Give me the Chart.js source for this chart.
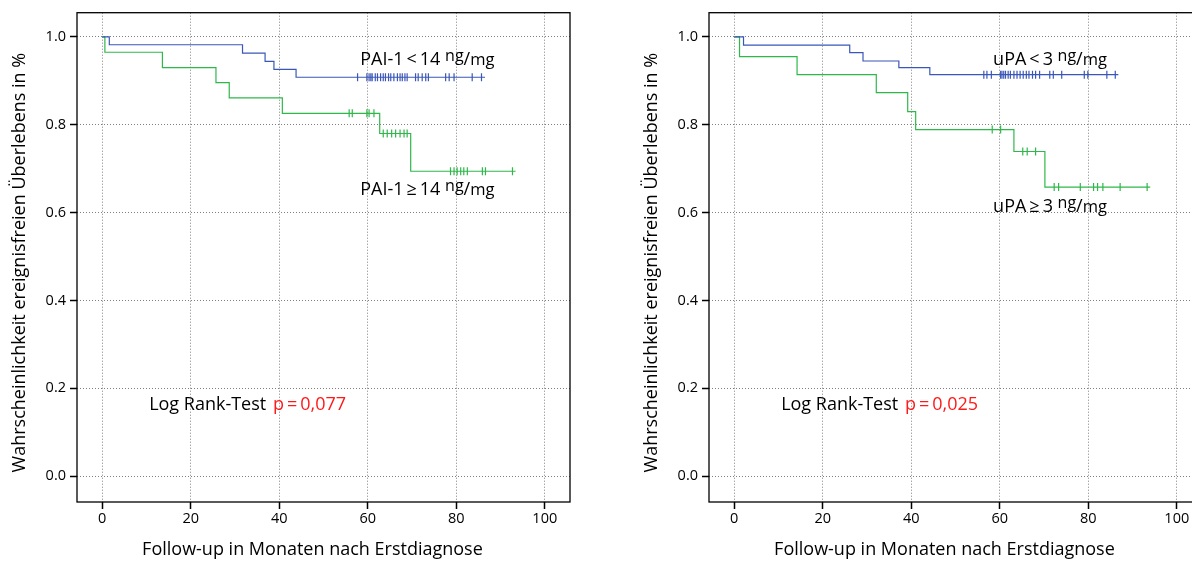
<!DOCTYPE html>
<html>
<head>
<meta charset="utf-8">
<script src="https://cdn.jsdelivr.net/npm/chart.js@4"></script>
<style>
    html, body { margin: 0; padding: 0; background: #fff; overflow: hidden; width: 1192px; height: 562px; }
    .panel { position: absolute; top: 0; width: 600px; height: 562px; }
</style>
</head>
<body>
<div class="panel" style="left:0"><canvas id="chartPai" width="600" height="562"></canvas></div>
<div class="panel" style="left:630px"><canvas id="chartUpa" width="600" height="562"></canvas></div>
<script>
// Axis ticks
const xTicks = [0, 20, 40, 60, 80, 100];
const yTicks = [0.0, 0.2, 0.4, 0.6, 0.8, 1.0];

// Left panel: PAI-1 < 14 ng/mg (event times, survival after each step)
const paiLowTimes = [0, 1.6, 31.7, 36.8, 38.8, 43.8, 86.5];
const paiLowSurv = [1.0, 0.982, 0.963, 0.944, 0.926, 0.908, 0.908];
const paiLowCensored = [57.7, 59.8, 60.3, 60.7, 61.0, 61.7, 62.2, 62.9, 63.5, 64.0, 64.7, 65.2, 65.9,
    66.7, 67.3, 67.8, 68.4, 68.9, 70.8, 71.4, 72.3, 73.1, 73.7, 77.6, 78.4, 79.5, 83.6, 85.7];

// Left panel: PAI-1 >= 14 ng/mg
const paiHighTimes = [0, 0.6, 13.6, 25.7, 28.7, 40.7, 62.7, 69.7, 93.4];
const paiHighSurv = [1.0, 0.965, 0.930, 0.896, 0.861, 0.826, 0.780, 0.694, 0.694];
const paiHighCensored = [55.8, 56.5, 59.8, 60.3, 61.4, 63.5, 64.4, 65.4, 66.3, 67.3, 68.2, 68.9,
    78.7, 79.5, 80.2, 81.0, 81.7, 82.5, 85.9, 86.6, 92.7];

// Right panel: uPA < 3 ng/mg
const upaLowTimes = [0, 2.1, 26.1, 29.1, 37.2, 44.2, 86.8];
const upaLowSurv = [1.0, 0.981, 0.964, 0.945, 0.930, 0.914, 0.914];
const upaLowCensored = [56.4, 57.1, 58.1, 60.2, 60.5, 60.9, 61.3, 61.9, 62.4, 63.2, 63.9, 64.6, 65.3,
    66.0, 66.6, 67.4, 68.1, 69.0, 71.3, 72.1, 74.0, 79.1, 79.9, 84.2, 86.1];

// Right panel: uPA >= 3 ng/mg
const upaHighTimes = [0, 1.2, 14.2, 32.1, 39.2, 41.0, 63.2, 70.2, 94.0];
const upaHighSurv = [1.0, 0.955, 0.914, 0.873, 0.830, 0.789, 0.739, 0.658, 0.658];
const upaHighCensored = [58.3, 60.2, 65.2, 66.2, 68.1, 72.3, 73.3, 78.2, 81.2, 82.1, 83.3, 87.2, 93.3];

const blue = '#3a57b8';
const green = '#2fb84a';
const FONT = '"Open Sans", "Liberation Sans", sans-serif';

// survival value at time t (step function lookup)
function survAt(times, surv, t) {
    let s = surv[0];
    for (let i = 0; i < times.length; i++) {
        if (times[i] <= t) s = surv[i];
    }
    return s;
}

function stepData(times, surv) {
    return times.map((t, i) => ({ x: t, y: surv[i] }));
}

function censorData(times, surv, censored) {
    return censored.map(t => ({ x: t, y: survAt(times, surv, t) }));
}

// draws "PAI-1<14 ng/mg" style label with a small fraction unit
function drawUnitLabel(ctx, x, y, main, num, den) {
    ctx.textBaseline = 'alphabetic';
    ctx.textAlign = 'left';
    ctx.fillStyle = '#000';
    ctx.font = '18px ' + FONT;
    ctx.fillText(main, x, y);
    x += ctx.measureText(main).width;
    ctx.font = '16px ' + FONT;
    ctx.fillText(num, x, y - 4);
    x += ctx.measureText(num).width;
    ctx.font = '18px ' + FONT;
    ctx.fillText('/', x, y);
    x += ctx.measureText('/').width;
    ctx.font = '16.5px ' + FONT;
    ctx.fillText(den, x, y);
}

function makeChart(canvasId, cfg) {
    const annotations = {
        id: 'kmAnnotations',
        afterDraw(chart) {
            const { ctx, chartArea, scales } = chart;
            const xs = scales.x, ys = scales.y;
            ctx.save();
            // plot box
            ctx.strokeStyle = '#000';
            ctx.lineWidth = 1.3;
            ctx.strokeRect(chartArea.left, chartArea.top, chartArea.right - chartArea.left, chartArea.bottom - chartArea.top);

            // axis titles
            ctx.fillStyle = '#000';
            ctx.font = '18px ' + FONT;
            ctx.textAlign = 'center';
            ctx.textBaseline = 'middle';
            ctx.fillText('Follow-up in Monaten nach Erstdiagnose', xs.getPixelForValue(47.5), 550);
            ctx.save();
            ctx.translate(cfg.yTitleX, ys.getPixelForValue(0.486));
            ctx.rotate(-Math.PI / 2);
            ctx.fillText('Wahrscheinlichkeit ereignisfreien Überlebens in %', 0, 0);
            ctx.restore();

            // group labels
            drawUnitLabel(ctx, xs.getPixelForValue(cfg.labelX), ys.getPixelForValue(cfg.lowLabelY), cfg.lowLabel, 'ng', 'mg');
            drawUnitLabel(ctx, xs.getPixelForValue(cfg.labelX), ys.getPixelForValue(cfg.highLabelY), cfg.highLabel, 'ng', 'mg');

            // log rank test
            ctx.font = '18px ' + FONT;
            ctx.textAlign = 'left';
            ctx.textBaseline = 'alphabetic';
            const lx = xs.getPixelForValue(10.6), ly = ys.getPixelForValue(0.15);
            const lead = 'Log Rank-Test ';
            ctx.fillStyle = '#000';
            ctx.fillText(lead, lx, ly);
            ctx.fillStyle = '#ff1a1a';
            ctx.fillText('p\u2009=\u2009' + cfg.pValue, lx + ctx.measureText(lead).width + 2, ly);
            ctx.restore();
        }
    };

    const g = cfg.groups;
    new Chart(document.getElementById(canvasId), {
        type: 'line',
        data: {
            datasets: [
                { data: stepData(g[0].times, g[0].surv), borderColor: blue, borderWidth: 1.2, stepped: 'before', pointRadius: 0, fill: false },
                { data: stepData(g[1].times, g[1].surv), borderColor: green, borderWidth: 1.2, stepped: 'before', pointRadius: 0, fill: false },
                { type: 'scatter', data: censorData(g[0].times, g[0].surv, g[0].censored), pointStyle: 'line', rotation: 90,
                    pointRadius: 4, borderColor: blue, borderWidth: 1.2, showLine: false },
                { type: 'scatter', data: censorData(g[1].times, g[1].surv, g[1].censored), pointStyle: 'line', rotation: 90,
                    pointRadius: 4, borderColor: green, borderWidth: 1.2, showLine: false }
            ]
        },
        options: {
            responsive: false,
            animation: false,
            layout: { padding: { top: 12, right: cfg.padRight, left: 0, bottom: 0 } },
            plugins: { legend: { display: false }, tooltip: { enabled: false } },
            scales: {
                x: {
                    type: 'linear',
                    min: -5.7,
                    max: 105.7,
                    afterFit: s => { s.height = 60; },
                    afterBuildTicks: s => { s.ticks = xTicks.map(v => ({ value: v })); },
                    ticks: { font: { size: 14.5, family: FONT }, color: '#000', padding: 1, maxRotation: 0 },
                    grid: { color: 'rgba(0,0,0,0.5)', lineWidth: 1, tickLength: 7, tickColor: '#000', tickWidth: 1.5, tickBorderDash: [1, 0] },
                    border: { display: false, dash: [1, 2] }
                },
                y: {
                    type: 'linear',
                    min: -0.059,
                    max: 1.055,
                    afterFit: s => { s.width = cfg.yWidth; },
                    afterBuildTicks: s => { s.ticks = yTicks.map(v => ({ value: v })); },
                    ticks: { font: { size: 14.5, family: FONT }, color: '#000', padding: 4, callback: v => v.toFixed(1) },
                    grid: { color: 'rgba(0,0,0,0.5)', lineWidth: 1, tickLength: 7, tickColor: '#000', tickWidth: 1.5, tickBorderDash: [1, 0] },
                    border: { display: false, dash: [1, 2] }
                }
            }
        },
        plugins: [annotations]
    });
}

makeChart('chartPai', {
    groups: [
        { times: paiLowTimes, surv: paiLowSurv, censored: paiLowCensored },
        { times: paiHighTimes, surv: paiHighSurv, censored: paiHighCensored }
    ],
    lowLabel: 'PAI-1\u2009<\u200914 ',
    highLabel: 'PAI-1\u2009\u2265\u200914 ',
    labelX: 58.3,
    lowLabelY: 0.936,
    highLabelY: 0.641,
    pValue: '0,077',
    yWidth: 77,
    padRight: 30,
    yTitleX: 20
});

makeChart('chartUpa', {
    groups: [
        { times: upaLowTimes, surv: upaLowSurv, censored: upaLowCensored },
        { times: upaHighTimes, surv: upaHighSurv, censored: upaHighCensored }
    ],
    lowLabel: 'uPA\u2009<\u20093 ',
    highLabel: 'uPA\u2009\u2265\u20093 ',
    labelX: 58.5,
    lowLabelY: 0.936,
    highLabelY: 0.602,
    pValue: '0,025',
    yWidth: 79,
    padRight: 28,
    yTitleX: 22
});
</script>
</body>
</html>
